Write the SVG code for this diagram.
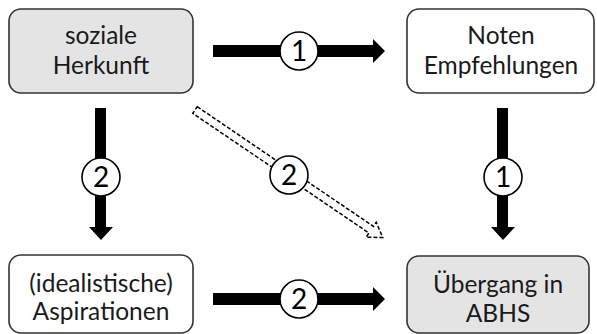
<svg xmlns="http://www.w3.org/2000/svg" width="597" height="334" viewBox="0 0 597 334">
<style>
.box{stroke:#333;stroke-width:1.6}
.gray{fill:#e4e4e4}
.white{fill:#fff}
.t{font-family:Lato,"Liberation Sans",sans-serif;font-size:24.5px;fill:#1a1a1a;text-anchor:middle}
.arr{fill:#000}
.circ{fill:#fff;stroke:#000;stroke-width:1.6}
.num{font-family:Lato,"Liberation Sans",sans-serif;font-size:28px;fill:#000;text-anchor:middle}
.dash{fill:#fff;stroke:#000;stroke-width:1.5;stroke-dasharray:4 2}
</style>
<rect width="597" height="334" fill="#fff"/>
<g id="connectors">
  <polygon class="arr" points="213,45 373,45 373,39 385,51 373,63 373,57 213,57"/>
  <polygon class="arr" points="213,293 373,293 373,287 385,299 373,311 373,305 213,305"/>
  <polygon class="arr" points="95,108 106,108 106,227 113,227 101,240 89,227 95,227"/>
  <polygon class="arr" points="497,108 508,108 508,227 515,227 503,240 491,227 497,227"/>
  <g transform="translate(195,110) rotate(34.2)">
    <polygon class="dash" points="0,-4 213,-4 213,-9 227,0 213,9 213,4 0,4"/>
  </g>
  <circle class="circ" cx="299" cy="51" r="19"/>
  <text class="num" x="299" y="61">1</text>
  <circle class="circ" cx="299" cy="299" r="19"/>
  <text class="num" x="299" y="309">2</text>
  <circle class="circ" cx="101" cy="177" r="19"/>
  <text class="num" x="101" y="187">2</text>
  <circle class="circ" cx="503" cy="177" r="19"/>
  <text class="num" x="503" y="187">1</text>
  <circle class="circ" cx="289" cy="175" r="19"/>
  <text class="num" x="289" y="185">2</text>
</g>
<g id="n1">
  <rect class="box gray" x="9" y="9" width="184" height="84" rx="12"/>
  <text class="t" x="101" y="44">soziale</text>
  <text class="t" x="101" y="74">Herkunft</text>
</g>
<g id="n2">
  <rect class="box white" x="407" y="9" width="187" height="84" rx="12"/>
  <text class="t" x="501" y="44">Noten</text>
  <text class="t" x="501" y="74">Empfehlungen</text>
</g>
<g id="n3">
  <rect class="box white" x="9" y="255" width="184" height="78" rx="12"/>
  <text class="t" x="101" y="292">(idealistische)</text>
  <text class="t" x="101" y="320">Aspirationen</text>
</g>
<g id="n4">
  <rect class="box gray" x="407" y="256" width="182" height="77" rx="12"/>
  <text class="t" x="498" y="293">Übergang in</text>
  <text class="t" x="498" y="322">ABHS</text>
</g>
</svg>
